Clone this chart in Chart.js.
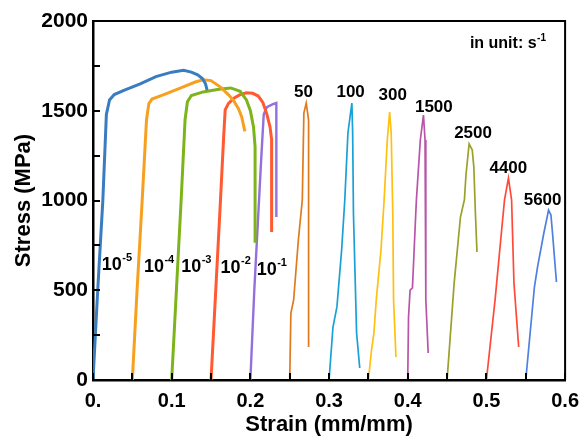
<!DOCTYPE html>
<html>
<head>
<meta charset="utf-8">
<script src="https://cdn.jsdelivr.net/npm/chart.js@4"></script>
<style>
html,body{margin:0;padding:0;background:#fff;}
#wrap{width:588px;height:439px;position:relative;}
</style>
</head>
<body>
<div id="wrap"><canvas id="c" width="588" height="439"></canvas></div>
<script>
// ---- Data (strain in mm/mm, stress in MPa) ----
const strainE5 = [0,0.006,0.0125,0.017,0.021,0.027,0.04,0.06,0.08,0.1,0.115,0.125,0.133,0.139,0.143,0.145];
const stressE5 = [0,500,1000,1480,1560,1590,1615,1650,1690,1715,1725,1715,1700,1680,1650,1615];
const strainE4 = [0.05,0.056,0.0625,0.068,0.071,0.075,0.09,0.11,0.13,0.14,0.15,0.162,0.172,0.179,0.185,0.189,0.193];
const stressE4 = [0,500,1000,1450,1540,1565,1590,1625,1660,1672,1668,1632,1590,1555,1510,1465,1385];
const strainE3 = [0.1,0.106,0.112,0.117,0.12,0.125,0.14,0.16,0.175,0.187,0.195,0.2,0.204,0.206,0.206,0.206];
const stressE3 = [0,500,1000,1450,1550,1585,1605,1620,1627,1608,1560,1500,1410,1300,1000,765];
const strainE2 = [0.15,0.156,0.162,0.166,0.168,0.172,0.179,0.187,0.195,0.203,0.21,0.216,0.221,0.225,0.227,0.227];
const stressE2 = [0,500,1000,1350,1505,1540,1570,1590,1600,1597,1582,1545,1480,1410,1340,825];
const strainE1 = [0.2,0.205,0.211,0.214,0.217,0.221,0.228,0.233,0.233,0.233];
const stressE1 = [0,500,1000,1250,1480,1520,1535,1543,1300,908];

const strain50 = [0.25,0.2515,0.255,0.261,0.266,0.268,0.271,0.274,0.274,0.274];
const stress50 = [0,373,446,780,1003,1487,1543,1448,930,184];
const strain100 = [0.3,0.305,0.31,0.316,0.32,0.324,0.329,0.33,0.331,0.335,0.339];
const stress100 = [0,295,407,724,1003,1376,1543,1376,930,262,67];
const strain300 = [0.35,0.354,0.357,0.36,0.366,0.37,0.374,0.377,0.379,0.381,0.382,0.385];
const stress300 = [0,167,262,446,724,1003,1337,1493,1376,930,446,128];
const strain1500 = [0.4,0.401,0.403,0.406,0.41,0.411,0.416,0.42,0.422,0.423,0.423,0.426];
const stress1500 = [0,351,501,513,908,1003,1337,1476,1337,930,446,150];
const strain2500 = [0.45,0.459,0.467,0.472,0.474,0.478,0.482,0.484,0.486,0.488];
const stress2500 = [0,540,908,1003,1142,1315,1281,1187,930,713];
const strain4400 = [0.5,0.511,0.519,0.523,0.528,0.532,0.535,0.541];
const stress4400 = [0,446,819,1003,1125,1003,540,184];
const strain5600 = [0.55,0.561,0.565,0.573,0.579,0.582,0.584,0.589];
const stress5600 = [0,518,630,819,947,920,819,546];

// ---- Labels ----
const xTickValues = [0,0.1,0.2,0.3,0.4,0.5,0.6];
const yTickValues = [0,500,1000,1500,2000];
const lowRateBase = ['10','10','10','10','10'];
const lowRateExp = ['-5','-4','-3','-2','-1'];
const lowLabelStrain = [0.0112,0.0647,0.112,0.162,0.208];
const lowLabelStress = [613,602,602,596,585];
const highRateLabels = ['50','100','300','1500','2500','4400','5600'];
const highLabelStrain = [0.2676,0.3274,0.381,0.4332,0.483,0.5279,0.5714];
const highLabelStress = [1577,1577,1560,1493,1348,1153,975];
const unitText = 'in unit: s';
const unitExp = '-1';
const unitStrain = 0.479, unitStress = 1850;

const pts = (xs, ys) => xs.map((x,i)=>({x:x, y:ys[i]}));
const FONT = '"Liberation Sans", Arial, sans-serif';

const series = [
  [strainE5, stressE5, '#3A7CC0', 3],
  [strainE4, stressE4, '#F7A020', 3],
  [strainE3, stressE3, '#7DB41C', 3],
  [strainE2, stressE2, '#FF5A32', 3],
  [strainE1, stressE1, '#9370DB', 2.4],
  [strain50, stress50, '#E07A1E', 1.7],
  [strain100, stress100, '#1AA0D8', 1.7],
  [strain300, stress300, '#FFC010', 1.7],
  [strain1500, stress1500, '#B955A8', 1.7],
  [strain2500, stress2500, '#9BA02A', 1.7],
  [strain4400, stress4400, '#FF4A3A', 1.7],
  [strain5600, stress5600, '#4F7FE0', 1.7]
];

const datasets = series.map(s => ({
  data: pts(s[0], s[1]),
  borderColor: s[2],
  backgroundColor: s[2],
  borderWidth: s[3],
  showLine: true,
  pointRadius: 0,
  tension: 0,
  fill: false
}));

const decor = {
  id: 'decor',
  afterDraw(chart) {
    const ctx = chart.ctx;
    const xs = chart.scales.x, ys = chart.scales.y;
    const a = chart.chartArea;
    ctx.save();
    // frame
    ctx.strokeStyle = '#000';
    ctx.lineWidth = 2;
    ctx.beginPath();
    ctx.moveTo(a.left, a.top); ctx.lineTo(a.right, a.top); ctx.lineTo(a.right, a.bottom);
    ctx.stroke();
    // inward ticks
    ctx.lineWidth = 2;
    for (let v = 0; v <= 0.6001; v += 0.05) {
      const px = Math.round(xs.getPixelForValue(v));
      ctx.beginPath(); ctx.moveTo(px, a.bottom); ctx.lineTo(px, a.bottom - 7); ctx.stroke();
    }
    for (let v = 0; v <= 2000; v += 250) {
      const py = Math.round(ys.getPixelForValue(v));
      ctx.beginPath(); ctx.moveTo(a.left, py); ctx.lineTo(a.left + 7, py); ctx.stroke();
    }
    // labels
    ctx.fillStyle = '#000';
    ctx.textBaseline = 'alphabetic';
    ctx.textAlign = 'left';
    for (let i = 0; i < lowRateBase.length; i++) {
      const x = xs.getPixelForValue(lowLabelStrain[i]);
      const y = ys.getPixelForValue(lowLabelStress[i]);
      ctx.font = 'bold 18px ' + FONT;
      ctx.fillText(lowRateBase[i], x, y);
      const w = ctx.measureText(lowRateBase[i]).width;
      ctx.font = 'bold 11px ' + FONT;
      ctx.fillText(lowRateExp[i], x + w + 0.5, y - 9);
    }
    ctx.textAlign = 'center';
    ctx.font = 'bold 17px ' + FONT;
    for (let i = 0; i < highRateLabels.length; i++) {
      ctx.fillText(highRateLabels[i], xs.getPixelForValue(highLabelStrain[i]), ys.getPixelForValue(highLabelStress[i]));
    }
    ctx.textAlign = 'left';
    ctx.font = 'bold 16px ' + FONT;
    const ux = xs.getPixelForValue(unitStrain), uy = ys.getPixelForValue(unitStress);
    ctx.fillText(unitText, ux, uy);
    const uw = ctx.measureText(unitText).width;
    ctx.font = 'bold 10px ' + FONT;
    ctx.fillText(unitExp, ux + uw + 0.5, uy - 7);
    ctx.restore();
  }
};

new Chart(document.getElementById('c'), {
  type: 'scatter',
  data: { datasets },
  options: {
    responsive: false,
    animation: false,
    devicePixelRatio: 1,
    layout: { padding: { left: 0, right: 14, top: 21, bottom: 0 } },
    plugins: { legend: { display: false }, tooltip: { enabled: false } },
    scales: {
      x: {
        type: 'linear', min: 0, max: 0.6,
        afterFit(s) { s.height = 59; },
        afterBuildTicks(s) { s.ticks = xTickValues.map(v => ({ value: v })); },
        grid: { display: false, drawTicks: false },
        border: { display: true, color: '#000', width: 2.5 },
        ticks: {
          color: '#000', padding: 9, maxRotation: 0, autoSkip: false,
          font: { family: FONT, size: 20, weight: 'bold' },
          callback: v => (v === 0 ? '0.' : v.toFixed(1))
        },
        title: {
          display: true, text: 'Strain (mm/mm)', color: '#000',
          font: { family: FONT, size: 22, weight: 'bold' },
          padding: { top: 0, bottom: 1 }
        }
      },
      y: {
        type: 'linear', min: 0, max: 2000,
        afterFit(s) { s.width = 93; },
        afterBuildTicks(s) { s.ticks = yTickValues.map(v => ({ value: v })); },
        grid: { display: false, drawTicks: false },
        border: { display: true, color: '#000', width: 2.5 },
        ticks: {
          color: '#000', padding: 5, autoSkip: false,
          font: { family: FONT, size: 21, weight: 'bold' },
          callback: v => String(v)
        },
        title: {
          display: true, text: 'Stress (MPa)', color: '#000',
          font: { family: FONT, size: 22, weight: 'bold' },
          padding: { top: 11, bottom: 0 }
        }
      }
    }
  },
  plugins: [decor]
});
</script>
</body>
</html>
